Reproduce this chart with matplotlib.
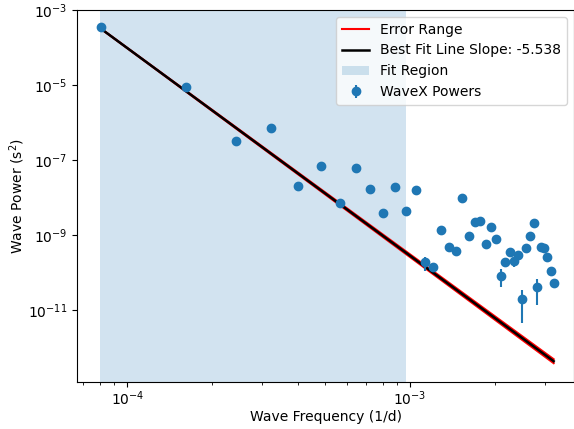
import numpy as np
import matplotlib
matplotlib.use("Agg")
import matplotlib.pyplot as plt
from matplotlib.ticker import NullFormatter

# Frequencies (1/d)
freqs = [0.805e-4, 1.61e-4, 2.415e-4, 3.22e-4, 4.025e-4, 4.83e-4, 5.635e-4, 6.44e-4,
         7.245e-4, 8.05e-4, 8.855e-4, 9.66e-4, 10.465e-4, 11.27e-4, 12.075e-4, 12.88e-4,
         13.685e-4, 14.49e-4, 15.295e-4, 16.1e-4, 16.905e-4, 17.71e-4, 18.515e-4, 19.32e-4,
         20.125e-4, 20.93e-4, 21.735e-4, 22.54e-4, 23.345e-4, 24.15e-4, 24.955e-4, 25.76e-4,
         26.565e-4, 27.37e-4, 28.175e-4, 28.98e-4, 29.785e-4, 30.59e-4, 31.395e-4, 32.2e-4]

# Wave powers (s^2)
powers = [3.46e-4, 8.85e-6, 3.27e-7, 7.27e-7, 2.03e-8, 6.92e-8, 7.26e-9, 6.01e-8,
          1.69e-8, 3.79e-9, 1.94e-8, 4.36e-9, 1.58e-8, 1.87e-10, 1.38e-10, 1.36e-9,
          4.79e-10, 3.67e-10, 9.52e-9, 9.58e-10, 2.18e-9, 2.41e-9, 5.75e-10, 1.60e-9,
          7.82e-10, 8.22e-11, 1.94e-10, 3.46e-10, 2.03e-10, 2.93e-10, 1.96e-11, 4.42e-10,
          9.23e-10, 2.09e-9, 4.03e-11, 4.70e-10, 4.42e-10, 2.64e-10, 1.12e-10, 5.25e-11]

# Power uncertainties (s^2)
errors = [1.0e-5, 4e-7, 2e-8, 3e-8, 1.5e-9, 3e-9, 5e-10, 3e-9,
          1e-9, 3e-10, 1e-9, 3e-10, 1e-9, 7.5e-11, 3e-11, 1e-10,
          5e-11, 5e-11, 5e-10, 8e-11, 1.5e-10, 1.5e-10, 6e-11, 1.2e-10,
          6e-11, 4.1e-11, 5e-11, 4e-11, 6e-11, 4e-11, 1.5e-11, 5e-11,
          6e-11, 1e-10, 2.7e-11, 5e-11, 5e-11, 4e-11, 2e-11, 1e-11]

fit_low, fit_high = 8.0e-5, 9.66e-4
slope = -5.538
slope_err = 0.033
amp_at_f1 = 3.21e-4

f = np.array(freqs)
line = amp_at_f1 * (f / f[0]) ** slope
line_hi = amp_at_f1 * (f / f[0]) ** (slope + slope_err)
line_lo = amp_at_f1 * (f / f[0]) ** (slope - slope_err)

fig = plt.figure(figsize=(5.74, 4.29), dpi=100)
ax = fig.add_axes([77 / 574, 47 / 429, 497 / 574, 372 / 429])

ax.fill_between(f, line_lo, line_hi, color="red", alpha=0.5, lw=0, zorder=2)
h_err, = ax.plot(f, line_hi, color="red", lw=1.5, label="Error Range", zorder=2)
ax.plot(f, line_lo, color="red", lw=1.5, zorder=2)
h_fit, = ax.plot(f, line, color="black", lw=1.8,
                 label=f"Best Fit Line Slope: {slope:.3f}", zorder=3)
h_span = ax.axvspan(fit_low, fit_high, color="C0", alpha=0.2, lw=0,
                    label="Fit Region", zorder=1)
h_pts = ax.errorbar(f, powers, yerr=errors, fmt="o", color="C0",
                    label="WaveX Powers", zorder=4)

ax.set_xscale("log")
ax.set_yscale("log")
ax.set_xlim(6.64e-5, 3.80e-3)
ax.set_ylim(1.2e-13, 1e-3)
ax.xaxis.set_minor_formatter(NullFormatter())
ax.yaxis.set_minor_formatter(NullFormatter())
ax.tick_params(axis="x", which="major", pad=2.0)
ax.set_xlabel("Wave Frequency (1/d)", labelpad=1.5)
ax.set_ylabel("Wave Power (s$^2$)", labelpad=0.5)
ax.legend(handles=[h_err, h_fit, h_span, h_pts], loc="upper right")

fig.savefig("out.png", dpi=100)
